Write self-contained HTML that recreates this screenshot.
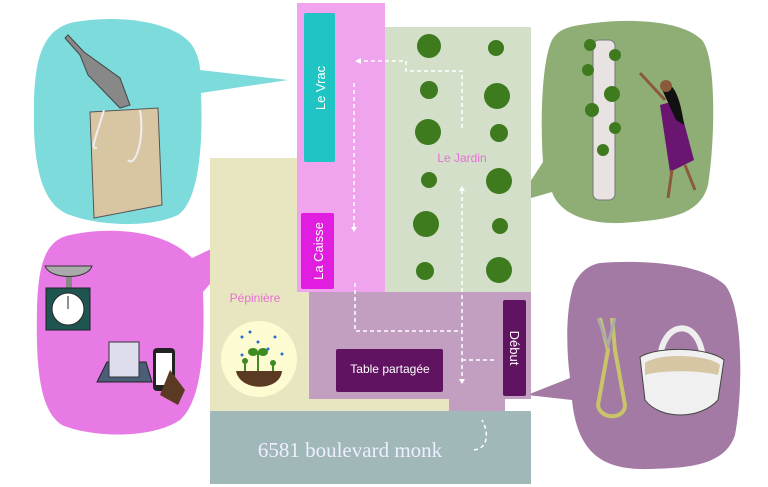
<!DOCTYPE html>
<html><head><meta charset="utf-8"><style>
body{margin:0;width:768px;height:487px;background:#fff;overflow:hidden;font-family:"Liberation Sans",sans-serif}
svg{display:block}
</style></head><body>
<svg width="768" height="487" viewBox="0 0 768 487" xmlns="http://www.w3.org/2000/svg">
<!-- bubbles -->
<path d="M75 22 C120 14 175 22 192 45 C200 58 200 68 200 70 L288 80 L201 93 C203 140 200 200 178 215 C150 228 100 226 70 215 C40 205 33 160 34 110 C34 60 42 28 75 22Z" fill="#7edbdc"/>
<path d="M70 235 C110 226 165 230 192 258 L262 225 L203 292 C205 340 203 400 180 420 C150 440 90 437 62 425 C38 410 36 360 37 310 C38 265 45 240 70 235Z" fill="#e87ae6"/>
<path d="M580 25 C620 18 680 18 702 40 C718 60 714 150 708 185 C700 215 670 220 620 223 C590 224 560 215 552 192 L517 202 L543 162 C540 120 542 60 552 40 C558 30 567 27 580 25Z" fill="#8eae76"/>
<path d="M600 263 C640 260 700 262 725 285 C745 310 742 400 735 435 C725 465 690 468 650 469 C610 470 578 460 572 400 L527 395 L570 378 C565 340 567 300 575 282 C582 270 590 265 600 263Z" fill="#a37aa4"/>
<!-- map -->
<rect x="210" y="158" width="240" height="253" fill="#e8e6c0"/>
<rect x="297" y="3" width="88" height="289" fill="#f0a4ee"/>
<rect x="385" y="27" width="146" height="265" fill="#d3dfc9"/>
<rect x="309" y="292" width="222" height="107" fill="#c29fc0"/>
<rect x="449" y="399" width="56" height="12" fill="#c29fc0"/>
<rect x="210" y="411" width="321" height="73" fill="#a0b8b8"/>
<rect x="304" y="13" width="31" height="149" rx="2" fill="#1fc4c4"/>
<rect x="301" y="213" width="33" height="76" rx="2" fill="#e11de0"/>
<rect x="503" y="300" width="23" height="96" rx="2" fill="#601360"/>
<rect x="336" y="349" width="107" height="43" rx="2" fill="#601360"/>
<text transform="translate(325,88) rotate(-90)" text-anchor="middle" fill="#fff" font-size="13">Le Vrac</text>
<text transform="translate(323,251) rotate(-90)" text-anchor="middle" fill="#fff" font-size="13">La Caisse</text>
<text transform="translate(510,348) rotate(90)" text-anchor="middle" fill="#fff" font-size="13">Début</text>
<text x="390" y="373" text-anchor="middle" fill="#fff" font-size="12">Table partagée</text>
<text x="462" y="162" text-anchor="middle" fill="#e86fd5" font-size="12">Le Jardin</text>
<text x="255" y="302" text-anchor="middle" fill="#e86fd5" font-size="12">Pépinière</text>
<text x="350" y="457" text-anchor="middle" fill="#eef" font-size="21" font-family="Liberation Serif,serif">6581 boulevard monk</text>
<!-- paths -->
<g stroke="#fff" stroke-width="1.5" stroke-dasharray="4,3" fill="none">
<path d="M462 128 V71 H406 V61 H360"/>
<path d="M354 83 V228"/>
<path d="M355 283 V331 H462"/>
<path d="M462 190 V380"/>
<path d="M494 360 H462"/>
<path d="M474 450 C490 448 488 430 482 420"/>
</g>
<g fill="#fff"><path d="M355 61 l6 -3 v6z"/><path d="M354 232 l-3 -5 h6z"/><path d="M462 186 l-3 5 h6z"/><path d="M462 384 l-3 -5 h6z"/></g>
<!-- plants -->
<g fill="#3e7a1e">
<circle cx="429" cy="46" r="12"/><circle cx="496" cy="48" r="8"/>
<circle cx="429" cy="90" r="9"/><circle cx="497" cy="96" r="13"/>
<circle cx="428" cy="132" r="13"/><circle cx="499" cy="133" r="9"/>
<circle cx="429" cy="180" r="8"/><circle cx="499" cy="181" r="13"/>
<circle cx="426" cy="224" r="13"/><circle cx="500" cy="226" r="8"/>
<circle cx="425" cy="271" r="9"/><circle cx="499" cy="270" r="13"/>
</g>
<!-- seedling -->
<circle cx="259" cy="359" r="38" fill="#fdfbd1"/>
<path d="M236 371 H282 C280 392 240 392 236 371Z" fill="#5a3a22"/>
<g stroke="#3e8b22" stroke-width="2"><line x1="258" y1="371" x2="258" y2="352"/><line x1="245" y1="371" x2="245" y2="362"/><line x1="273" y1="371" x2="273" y2="364"/></g>
<g fill="#3e8b22"><ellipse cx="253" cy="352" rx="5" ry="4"/><ellipse cx="263" cy="352" rx="5" ry="4"/><circle cx="245" cy="361" r="3"/><circle cx="273" cy="363" r="3"/></g>
<g fill="#2a6fd0"><circle cx="242" cy="337" r="1.5"/><circle cx="250" cy="332" r="1.5"/><circle cx="258" cy="342" r="1.5"/><circle cx="275" cy="337" r="1.5"/><circle cx="242" cy="355" r="1.5"/><circle cx="268" cy="349" r="1.5"/><circle cx="282" cy="354" r="1.5"/></g>
<!-- bag & scoop -->
<path d="M90 112 L158 108 L162 205 L94 218Z" fill="#d8c6a3" stroke="#555" stroke-width="1"/>
<path d="M68 35 L84 52 L120 78 L130 105 L120 108 L88 75 L80 55 L65 38Z" fill="#888" stroke="#444"/>
<path d="M104 110 C95 140 90 150 97 148 M140 110 C145 140 135 168 128 160" stroke="#eee" stroke-width="2" fill="none"/>
<!-- scale -->
<path d="M45 266 H92 C88 280 50 280 45 266Z" fill="#aaa" stroke="#333"/>
<rect x="66" y="277" width="6" height="12" fill="#888"/>
<rect x="46" y="288" width="44" height="42" fill="#1f5551" stroke="#222"/>
<circle cx="68" cy="309" r="16" fill="#fff" stroke="#222"/>
<line x1="68" y1="296" x2="68" y2="309" stroke="#222"/>
<!-- register -->
<path d="M97 382 L107 362 H146 L152 382Z" fill="#4a5e78" stroke="#222"/>
<rect x="109" y="342" width="30" height="35" fill="#dde" stroke="#333"/>
<rect x="153" y="348" width="22" height="43" rx="4" fill="#222"/>
<rect x="156" y="353" width="16" height="32" fill="#fff"/>
<path d="M170 370 L185 390 L178 405 L160 395Z" fill="#5a3a22"/>
<!-- tower & woman -->
<rect x="593" y="40" width="22" height="160" rx="6" fill="#e8e2e2" stroke="#777"/>
<g fill="#3e7a1e"><circle cx="590" cy="45" r="6"/><circle cx="615" cy="55" r="6"/><circle cx="588" cy="70" r="6"/><circle cx="612" cy="94" r="8"/><circle cx="592" cy="110" r="7"/><circle cx="615" cy="128" r="6"/><circle cx="603" cy="150" r="6"/></g>
<path d="M640 73 L665 100" stroke="#8a5a3a" stroke-width="3"/>
<path d="M660 105 L678 100 L694 160 L670 172Z" fill="#6a1570"/>
<path d="M660 85 C672 78 680 95 684 125 L676 120Z" fill="#111"/>
<circle cx="666" cy="86" r="6" fill="#8a5a3a"/>
<path d="M672 170 L668 198 M685 165 L695 190" stroke="#8a5a3a" stroke-width="3"/>
<!-- scissors & basket -->
<path d="M600 318 L608 350 L598 405 C600 420 625 420 625 405 L615 350 L612 318" fill="none" stroke="#c9c46a" stroke-width="4"/>
<path d="M598 318 L608 345 L615 318" fill="none" stroke="#aaa" stroke-width="3"/>
<path d="M660 363 C660 320 700 315 703 360" fill="none" stroke="#eee" stroke-width="6"/>
<path d="M640 357 C660 345 710 348 724 360 L718 400 C700 420 660 420 645 400Z" fill="#f0f0f0" stroke="#444"/>
<path d="M645 363 C660 352 710 355 720 365 L718 375 C700 370 660 370 645 375Z" fill="#d6c6a4"/>
</svg>
</body></html>
